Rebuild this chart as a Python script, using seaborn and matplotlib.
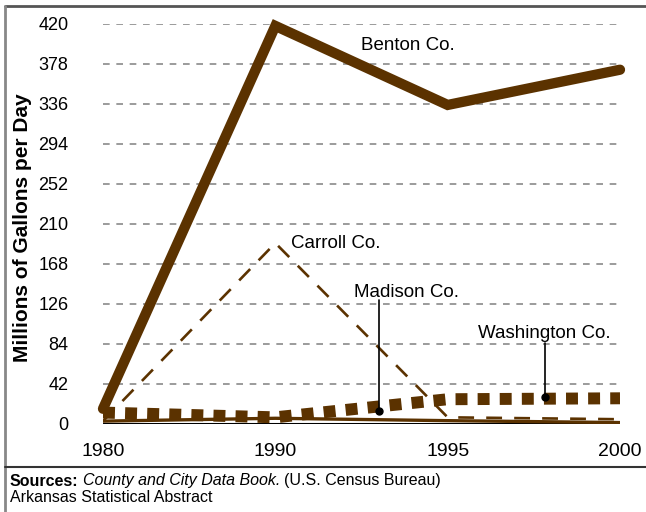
import matplotlib
matplotlib.use("Agg")
import matplotlib.pyplot as plt
from matplotlib.lines import Line2D
import seaborn as sns
import pandas as pd

years = ["1980", "1990", "1995", "2000"]
benton = [16, 418, 335, 372]
carroll = [3, 190, 7, 5]
madison = [3, 6, 3.5, 1.5]
washington = [12, 7, 26, 27]
y_ticks = [0, 42, 84, 126, 168, 210, 252, 294, 336, 378, 420]

sns.set_theme(style="white")
plt.rcParams["font.family"] = ["Liberation Sans", "DejaVu Sans"]
plt.rcParams.update({"text.color": "black", "axes.labelcolor": "black",
                     "xtick.color": "black", "ytick.color": "black"})

brown = "#5b3200"
fig = plt.figure(figsize=(6.46, 5.12), dpi=100)
ax = fig.add_axes([103/646, 1-424/512, 517/646, 400/512])

df = pd.DataFrame({"year": years, "Benton": benton, "Carroll": carroll,
                   "Madison": madison, "Washington": washington})

# gridlines
for t in y_ticks[1:]:
    ax.axhline(t, color="#8a8a8a", lw=1.2, ls=(0, (4, 4)), zorder=0)

sns.lineplot(data=df, x="year", y="Madison", ax=ax, color=brown, lw=2.4,
             zorder=3, sort=False)
sns.lineplot(data=df, x="year", y="Washington", ax=ax, color=brown, linewidth=8.6,
             ls=(0, (1, 0.85)), zorder=4, sort=False, dash_capstyle="butt")
sns.lineplot(data=df, x="year", y="Carroll", ax=ax, color=brown, linewidth=1.9,
             ls=(0, (6, 4.6)), zorder=5, sort=False, dash_capstyle="butt")
sns.lineplot(data=df, x="year", y="Benton", ax=ax, color=brown, linewidth=7.4,
             zorder=6, sort=False, solid_joinstyle="miter", clip_on=False)

ax.axhline(0, color="black", lw=2.2, zorder=2)

ax.set_xlim(0, 3)
ax.set_ylim(0, 420)
ax.set_yticks(y_ticks)
ax.set_yticklabels([str(t) for t in y_ticks], fontsize=13)
ax.tick_params(axis="y", length=0, pad=25, colors="black")
ax.tick_params(axis="x", length=0, pad=14, labelsize=14, colors="black")
for s in ax.spines.values():
    s.set_visible(False)
ax.set_xlabel("")
ax.set_ylabel("Millions of Gallons per Day", fontsize=15, fontweight="bold",
              color="black")
ax.yaxis.set_label_coords(-0.138, 0.49)

# annotations
fs = 13.5
ax.text(1.77, 397, "Benton Co.", fontsize=fs, ha="center", va="center", color="black")
ax.text(1.35, 189, "Carroll Co.", fontsize=fs, ha="center", va="center", color="black")
ax.text(1.76, 138, "Madison Co.", fontsize=fs, ha="center", va="center", color="black")
ax.text(2.56, 95.5, "Washington Co.", fontsize=fs, ha="center", va="center", color="black")
ax.plot([1.6, 1.6], [130, 13.5], color="black", lw=1.2, zorder=7)
ax.plot([1.6], [13.5], "o", color="black", ms=5, zorder=7)
ax.plot([2.565, 2.565], [85, 28], color="black", lw=1.2, zorder=7)
ax.plot([2.565], [28], "o", color="black", ms=5, zorder=7)

# frame lines
fig.add_artist(Line2D([5/646, 1], [1-6/512, 1-6/512], color="#555555", lw=2))
fig.add_artist(Line2D([5/646, 5/646], [0, 1-6/512], color="#888888", lw=2))
fig.add_artist(Line2D([5/646, 1], [1-467/512, 1-467/512], color="#333333", lw=1.5))

# sources
fig.canvas.draw()
r = fig.canvas.get_renderer()
y1 = 1 - 481/512
sfs = 11.5
t1 = fig.text(10/646, y1, "Sources:", fontsize=sfs, fontweight="bold", va="center",
              color="black")
bb = t1.get_window_extent(r)
t2 = fig.text(bb.x1/646 + 4/646, y1, "County and City Data Book.", fontsize=sfs,
              style="italic", va="center", color="black")
bb2 = t2.get_window_extent(r)
fig.text(bb2.x1/646 + 4/646, y1, "(U.S. Census Bureau)", fontsize=sfs, va="center",
         color="black")
fig.text(10/646, 1 - 498/512, "Arkansas Statistical Abstract", fontsize=sfs,
         va="center", color="black")

fig.savefig("out.png", dpi=100)
